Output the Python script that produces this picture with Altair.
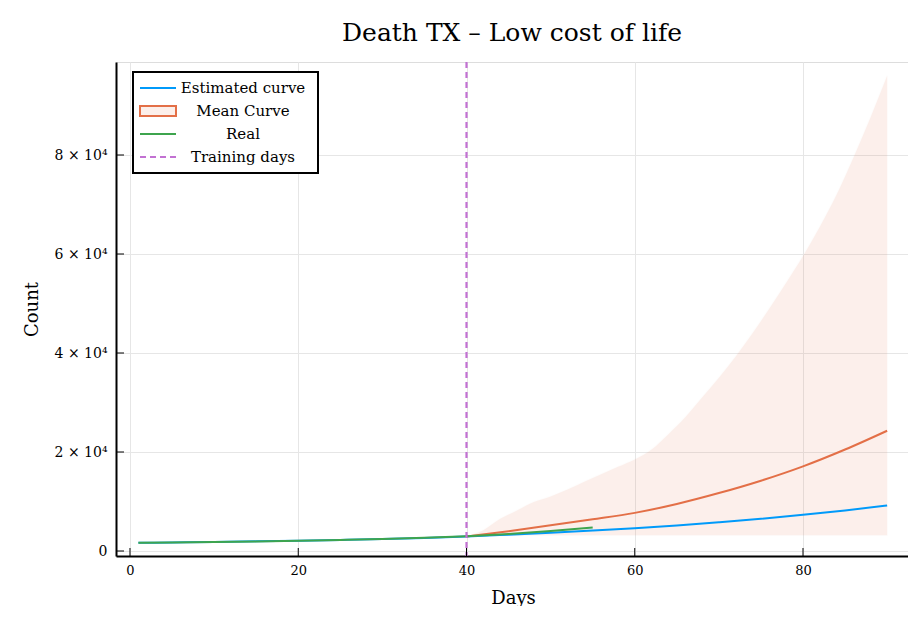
import altair as alt
import pandas as pd

FONT = "DejaVu Serif"

# ---- data ----
est_days = [1, 5, 10, 15, 20, 25, 30, 35, 40, 45, 50, 55, 60, 65, 70, 75, 80, 85, 90]
est_vals = [1650, 1730, 1830, 1950, 2080, 2230, 2400, 2630, 2930, 3300, 3700, 4130,
            4600, 5150, 5800, 6500, 7300, 8200, 9200]

real_days = [1, 5, 10, 15, 20, 25, 30, 35, 40, 45, 50, 55]
real_vals = [1650, 1720, 1820, 1940, 2080, 2240, 2420, 2660, 3000, 3450, 4050, 4750]

mean_days = [40, 45, 50, 55, 60, 65, 70, 75, 80, 85, 90]
mean_vals = [2950, 4000, 5200, 6400, 7700, 9500, 11700, 14200, 17100, 20500, 24300]

band_days = [40, 42, 44, 46, 48, 50, 52, 54, 56, 58, 60, 62, 64, 66, 68, 70,
             72, 74, 76, 78, 80, 82, 84, 86, 88, 90]
band_upper = [3000, 4200, 6500, 8200, 9900, 11000, 12400, 14000, 15500, 17000, 18500,
              20500, 23600, 27000, 31000, 35000, 39300, 44000, 49000, 54200, 59600,
              65500, 72000, 79500, 87500, 96000]
band_lower = [2950, 3050, 3100, 3150, 3200, 3200, 3200, 3200, 3200, 3200, 3200,
              3200, 3200, 3200, 3200, 3200, 3200, 3200, 3200, 3200, 3200,
              3200, 3200, 3200, 3200, 3200]

training_day = [40]
x_ticks = [0, 20, 40, 60, 80]
y_ticks = [0, 20000, 40000, 60000, 80000]

legend_labels = ["Estimated curve", "Mean Curve", "Real", "Training days"]

# ---- colours ----
BLUE = "#009AFA"
ORANGE = "#E36F47"
GREEN = "#3EA44E"
PURPLE = "#C271D2"

W, H = 792, 494
xdom = [-1.664, 92.48]
ydom = [-1010, 98790]

xs = alt.Scale(domain=xdom, nice=False, zero=False)
ys = alt.Scale(domain=ydom, nice=False, zero=False)

est_df = pd.DataFrame({"day": est_days, "v": est_vals})
real_df = pd.DataFrame({"day": real_days, "v": real_vals})
mean_df = pd.DataFrame({"day": mean_days, "v": mean_vals})
band_df = pd.DataFrame({"day": band_days, "lo": band_lower, "hi": band_upper})

x_axis = alt.Axis(
    values=x_ticks, grid=True, gridColor="#e6e6e6", gridWidth=1,
    domainColor="black", domainWidth=2, ticks=False,
    labelFont=FONT, labelFontSize=13, labelColor="black", labelPadding=8,
    title="Days", titleFont=FONT, titleFontSize=18, titleFontWeight="normal",
    titleColor="black", titleX=397, titleY=42, titleBaseline="middle", titleAlign="center",
)
y_axis = alt.Axis(
    values=y_ticks, grid=True, gridColor="#e6e6e6", gridWidth=1,
    domainColor="black", domainWidth=2, ticks=False,
    labelFont=FONT, labelFontSize=14, labelColor="black", labelPadding=9,
    labelExpr="datum.value == 0 ? '0' : (datum.value/10000) + ' × 10⁴'",
    title="Count", titleFont=FONT, titleFontSize=18, titleFontWeight="normal",
    titleColor="black", titleX=-84, titleY=H / 2, titleAngle=-90,
    titleBaseline="middle", titleAlign="center",
)

band = alt.Chart(band_df).mark_area(
    color=ORANGE, opacity=0.1, interpolate="monotone",
    stroke=ORANGE, strokeOpacity=0.12, strokeWidth=1.5,
).encode(
    x=alt.X("day:Q", scale=xs, axis=x_axis),
    y=alt.Y("lo:Q", scale=ys, axis=y_axis),
    y2="hi:Q",
)

def line(df, color):
    return alt.Chart(df).mark_line(color=color, strokeWidth=2, interpolate="monotone").encode(
        x=alt.X("day:Q", scale=xs),
        y=alt.Y("v:Q", scale=ys),
    )

train = alt.Chart(pd.DataFrame({"day": training_day})).mark_rule(
    color=PURPLE, strokeWidth=2.2, strokeDash=[6, 4]
).encode(x=alt.X("day:Q", scale=xs))

# inward ticks
ytick = alt.Chart(pd.DataFrame({"t": y_ticks})).mark_rule(color="black", strokeWidth=1).encode(
    y=alt.Y("t:Q", scale=ys), x=alt.value(0), x2=alt.value(8)
)
xtick = alt.Chart(pd.DataFrame({"t": x_ticks})).mark_rule(color="black", strokeWidth=1).encode(
    x=alt.X("t:Q", scale=xs), y=alt.value(H), y2=alt.value(H - 8)
)

# manual legend
one = pd.DataFrame({"a": [0]})
leg_box = alt.Chart(one).mark_rect(fill="white", stroke="black", strokeWidth=2).encode(
    x=alt.value(17), x2=alt.value(202), y=alt.value(10), y2=alt.value(111)
)
row_y = [26, 49, 72, 95]
leg_blue = alt.Chart(one).mark_rule(color=BLUE, strokeWidth=2).encode(
    x=alt.value(24), x2=alt.value(60), y=alt.value(row_y[0])
)
leg_band = alt.Chart(one).mark_rect(fill="#fcefea", stroke=ORANGE, strokeWidth=2).encode(
    x=alt.value(24), x2=alt.value(60), y=alt.value(row_y[1] - 5), y2=alt.value(row_y[1] + 5)
)
leg_green = alt.Chart(one).mark_rule(color=GREEN, strokeWidth=2).encode(
    x=alt.value(24), x2=alt.value(60), y=alt.value(row_y[2])
)
leg_purple = alt.Chart(one).mark_rule(color=PURPLE, strokeWidth=2, strokeDash=[6, 4]).encode(
    x=alt.value(24), x2=alt.value(60), y=alt.value(row_y[3])
)
leg_texts = [
    alt.Chart(one).mark_text(font=FONT, fontSize=15, color="black", align="center",
                             baseline="middle", text=lab).encode(
        x=alt.value(127), y=alt.value(ry))
    for lab, ry in zip(legend_labels, row_y)
]

chart = alt.layer(
    band,
    line(est_df, BLUE),
    line(mean_df, ORANGE),
    line(real_df, GREEN),
    train,
    ytick, xtick,
    leg_box, leg_blue, leg_band, leg_green, leg_purple, *leg_texts,
).properties(
    width=W, height=H,
    title=alt.TitleParams("Death TX – Low cost of life", font=FONT, fontSize=25,
                          fontWeight="normal", color="black", anchor="middle", offset=15),
    autosize=alt.AutoSizeParams(type="none"),
    padding={"left": 108, "top": 54, "right": 0, "bottom": 50},
).configure_view(stroke=None).configure(background="white")

chart.save("out.html", embed_options={"renderer": "svg", "actions": False})
